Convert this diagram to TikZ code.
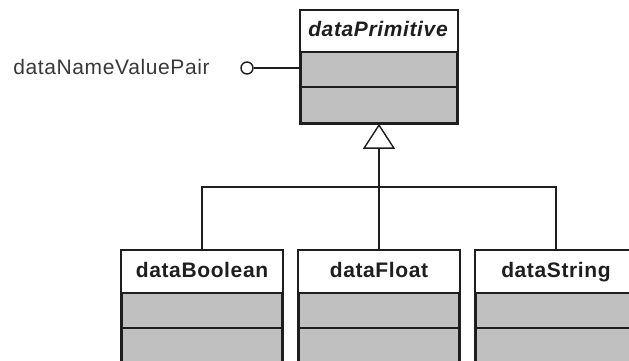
\documentclass[tikz,border=0pt]{standalone}
\usepackage{fontspec}
\setmainfont{Liberation Sans}
\newfontfamily\umlfont{Liberation Sans}[LetterSpace=3.0]
\usetikzlibrary{arrows.meta}

\definecolor{compartment}{HTML}{C0C0C0}
\definecolor{ink}{HTML}{1E1E1E}
\definecolor{labelink}{HTML}{383838}

\tikzset{
  classbox/.style={draw=ink, line width=1.6pt, fill=compartment,
    rectangle, inner sep=0pt, minimum width=#1},
  classbox/.default=160pt,
  classname/.style={anchor=base, inner sep=0pt, text=ink,
    font=\umlfont\fontsize{21pt}{23pt}\selectfont\bfseries},
  divider/.style={draw=ink, line width=1.6pt},
  link/.style={draw=ink, line width=1.4pt},
  lollipop/.style={circle, draw=ink, line width=1.4pt, fill=white,
    inner sep=0pt, minimum size=12pt},
  generalize/.style={link, -{Triangle[open, length=25pt, width=32pt]}},
}

\begin{document}
\begin{tikzpicture}[x=1pt, y=-1pt]
  \clip (0,0) rectangle (629,360);
  \fill[white] (0,0) rectangle (629,360);

  % abstract parent class
  \node[classbox=156pt, minimum height=112pt] (prim) at (379,67) {};
  \fill[white] ([shift={(0.8pt,-0.8pt)}]prim.north west) rectangle ([xshift=-0.8pt]prim.east |- 0,52);
  \draw[divider] (prim.west |- 0,52) -- (prim.east |- 0,52);
  \draw[divider] (prim.west |- 0,87) -- (prim.east |- 0,87);
  \draw[draw=ink, line width=1.6pt] (prim.north west) rectangle (prim.south east);
  \node[classname, font=\umlfont\fontsize{21pt}{23pt}\selectfont\bfseries\itshape] (primname) at (378,36.5) {dataPrimitive};

  % concrete subclasses
  \foreach \cx/\nm/\txt in {202/bool/dataBoolean, 379/float/dataFloat, 556/string/dataString}{
    \node[classbox, minimum height=129pt] (\nm) at (\cx,315.5) {};
    \fill[white] ([shift={(0.8pt,-0.8pt)}]\nm.north west) rectangle ([xshift=-0.8pt]\nm.east |- 0,293);
    \draw[divider] (\nm.west |- 0,293) -- (\nm.east |- 0,293);
    \draw[divider] (\nm.west |- 0,328) -- (\nm.east |- 0,328);
    \draw[draw=ink, line width=1.6pt] (\nm.north west) rectangle (\nm.south east);
    \node[classname] (\nm name) at (\cx,277.5) {\txt};
  }

  % generalization tree
  \coordinate (bus) at (379,187);
  \draw[link] (bool.north) |- (bus);
  \draw[link] (string.north) |- (bus);
  \draw[link] (float.north) -- (bus);
  \draw[generalize] (bus) -- (prim.south);

  % provided interface
  \node[lollipop] (iface) at (247,68) {};
  \draw[link] (iface.east) -- (iface -| prim.west);
  \node[anchor=base, inner sep=0pt, text=labelink,
    font=\umlfont\fontsize{21pt}{23pt}\selectfont] (ifacelabel) at (111.5,74.5) {dataNameValuePair};
\end{tikzpicture}
\end{document}
